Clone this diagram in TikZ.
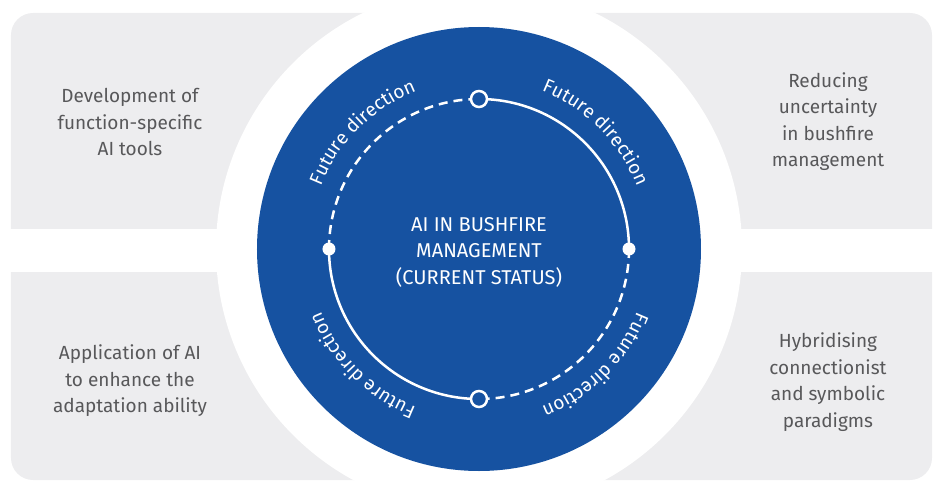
\documentclass[tikz,border=0pt]{standalone}
\usepackage{fontspec}
\setmainfont{Fira Sans}
\usetikzlibrary{decorations.text}
\definecolor{fireblue}{HTML}{1652A1}
\definecolor{panelgrey}{HTML}{EDEDEF}
\definecolor{textgrey}{HTML}{58585A}
\tikzset{
  paneltext/.style={text=textgrey, align=center, font=\fontsize{19}{26.5}\selectfont},
  ringline/.style={draw=white, line width=2.5pt},
  opendot/.style={circle, draw=white, fill=fireblue, line width=2.5pt, minimum size=16pt, inner sep=0pt},
  fulldot/.style={circle, fill=white, minimum size=13pt, inner sep=0pt},
  futurelabel/.style={decorate, decoration={text along path, text align=center,
    text color=white, text={|\fontsize{19}{20}\selectfont|Future direction}}}
}
\begin{document}
\begin{tikzpicture}[x=1pt,y=1pt]
\useasboundingbox (-479,-233) rectangle (455,249);
\fill[panelgrey, rounded corners=22pt] (-468,236) rectangle (453,-231);
\fill[white] (-479,20) rectangle (455,-23);
\fill[white] (0,0) circle[radius=263];
\fill[fireblue] (0,0) circle[radius=222];

\coordinate (north) at (90:150);
\coordinate (east) at (0:150);
\coordinate (south) at (270:150);
\coordinate (west) at (180:150);
\draw[ringline] (north) arc[start angle=90, end angle=0, radius=150];
\draw[ringline, dash pattern=on 9pt off 6pt] (east) arc[start angle=0, end angle=-90, radius=150];
\draw[ringline] (south) arc[start angle=270, end angle=180, radius=150];
\draw[ringline, dash pattern=on 9pt off 6pt] (west) arc[start angle=180, end angle=90, radius=150];
\node[opendot] (topdot) at (north) {};
\node[opendot] (bottomdot) at (south) {};
\node[fulldot] (rightdot) at (east) {};
\node[fulldot] (leftdot) at (west) {};

\path[futurelabel] (78:170) arc[start angle=78, end angle=12, radius=170];
\path[futurelabel] (168:170) arc[start angle=168, end angle=102, radius=170];
\path[futurelabel] (258:170) arc[start angle=258, end angle=192, radius=170];
\path[futurelabel] (348:170) arc[start angle=348, end angle=282, radius=170];

\node[text=white, align=center, font=\fontsize{20}{26.5}\selectfont] (status) at (0,-3)
  {AI IN BUSHFIRE\\MANAGEMENT\\(CURRENT STATUS)};

\node[paneltext] (tools) at (-349,127) {Development of\\function-specific\\AI tools};
\node[paneltext] (uncertainty) at (349,127.5) {Reducing\\uncertainty\\in bushfire\\management};
\node[paneltext] (adaptation) at (-349,-132) {Application of AI\\to enhance the\\adaptation ability};
\node[paneltext] (paradigms) at (349,-133) {Hybridising\\connectionist\\and symbolic\\paradigms};
\end{tikzpicture}
\end{document}
